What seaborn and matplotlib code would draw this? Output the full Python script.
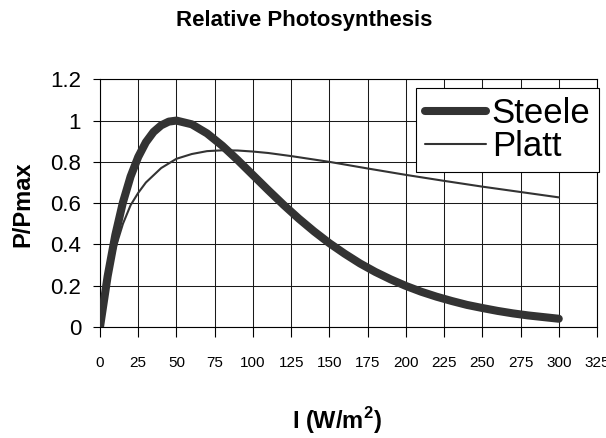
import numpy as np
import pandas as pd
import matplotlib
matplotlib.use("Agg")
import matplotlib.pyplot as plt
import seaborn as sns

# Data
irradiance = [0, 5, 10, 15, 20, 25, 30, 35, 40, 45, 50, 60, 70, 80, 90, 100, 110, 120,
              130, 140, 150, 160, 170, 180, 190, 200, 210, 220, 230, 240, 250, 260,
              270, 280, 290, 300]
steele = [0.0, 0.246, 0.445, 0.604, 0.729, 0.824, 0.895, 0.945, 0.977, 0.995, 1.0,
          0.982, 0.938, 0.878, 0.809, 0.736, 0.663, 0.592, 0.525, 0.463, 0.406,
          0.355, 0.308, 0.267, 0.231, 0.199, 0.171, 0.147, 0.126, 0.107, 0.092,
          0.078, 0.066, 0.056, 0.048, 0.040]
platt_x = [0, 5, 10, 15, 20, 25, 30, 40, 50, 60, 70, 80, 90, 100, 110, 125, 150,
           175, 200, 225, 250, 275, 300]
platt = [0.0, 0.22, 0.38, 0.50, 0.59, 0.65, 0.70, 0.77, 0.815, 0.838, 0.852, 0.856,
         0.855, 0.850, 0.843, 0.828, 0.800, 0.768, 0.737, 0.708, 0.680, 0.654, 0.628]
x_ticks = list(range(0, 326, 25))
y_ticks = [0, 0.2, 0.4, 0.6, 0.8, 1.0, 1.2]
y_tick_labels = ["0", "0.2", "0.4", "0.6", "0.8", "1", "1.2"]

sns.set_theme(style="white")
plt.rcParams["font.family"] = ["Liberation Sans", "DejaVu Sans"]
plt.rcParams["mathtext.fontset"] = "custom"
plt.rcParams["mathtext.rm"] = "Liberation Sans"
plt.rcParams["mathtext.bf"] = "Liberation Sans:bold"
plt.rcParams["text.color"] = "black"
plt.rcParams["xtick.color"] = "black"
plt.rcParams["ytick.color"] = "black"
plt.rcParams["axes.labelcolor"] = "black"

fig = plt.figure(figsize=(6.06, 4.38), dpi=100)
ax = fig.add_axes([100 / 606, (438 - 327) / 438, 497 / 606, (327 - 79.3) / 438])

line_col = "#333333"
sns.lineplot(x=irradiance, y=steele, ax=ax, color=line_col, linewidth=5.8,
             label="Steele", solid_capstyle="round", zorder=4)
sns.lineplot(x=platt_x, y=platt, ax=ax, color=line_col, linewidth=1.5,
             label="Platt", zorder=3)

ax.set_xlim(0, 325)
ax.set_ylim(0, 1.2)
ax.set_xticks(x_ticks)
ax.set_xticklabels([str(t) for t in x_ticks])
ax.set_yticks(y_ticks)
ax.set_yticklabels(y_tick_labels)
ax.grid(True, color="#1a1a1a", linewidth=0.75)
ax.set_axisbelow(True)
for s in ax.spines.values():
    s.set_color("black")
    s.set_linewidth(0.8)
    s.set_visible(True)

ax.tick_params(axis="x", direction="out", length=7.2, width=0.8, color="black",
               pad=14, labelsize=11, labelcolor="black", bottom=True)
ax.tick_params(axis="y", direction="out", length=5, width=0.8, color="black",
               pad=8.5, labelsize=16, labelcolor="black", left=True)
ax.set_xlabel("")
ax.set_ylabel("")

leg = ax.legend(loc="upper right", bbox_to_anchor=(599.3 / 606, 1 - 88.3 / 438),
                bbox_transform=fig.transFigure, fontsize=25, frameon=True,
                fancybox=False, edgecolor="black", framealpha=1,
                handlelength=1.75, handletextpad=0.18, labelspacing=0.0,
                borderpad=0.25, borderaxespad=0)
leg.get_frame().set_linewidth(0.8)
for t in leg.get_texts():
    t.set_color("black")
for h in leg.get_lines():
    h.set_solid_capstyle("round")

fig.text(304 / 606, 1 - 26 / 438, "Relative Photosynthesis", ha="center",
         va="baseline", fontsize=16, fontweight="bold", color="black")
fig.text(22.5 / 606, 1 - 204 / 438, "P/Pmax", rotation=90, ha="center",
         va="center", fontsize=17, fontweight="bold", color="black")
fig.text(337 / 606, 1 - 421 / 438, r"I (W/m$^\mathbf{2}$)", ha="center",
         va="center", fontsize=17, fontweight="bold", color="black")

fig.savefig("out.png", dpi=100)
